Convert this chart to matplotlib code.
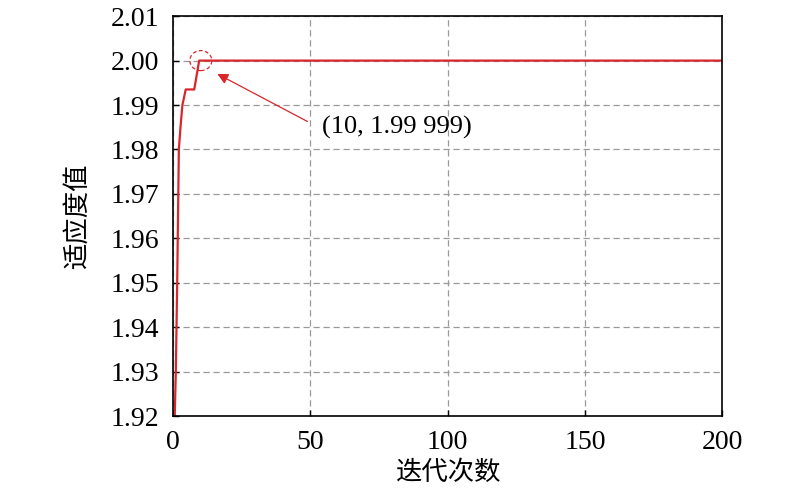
import matplotlib
matplotlib.use("Agg")
import matplotlib.pyplot as plt
from matplotlib.patches import Ellipse

# iteration / fitness values
iters = [0.7, 1.1, 1.6, 2.0, 2.2, 2.8, 3.5, 4.7, 7.8, 9.6, 200]
fitness = [1.92, 1.93, 1.95, 1.97, 1.98, 1.985, 1.99, 1.9935, 1.9935, 2.0, 2.0]

xticks = [0, 50, 100, 150, 200]
yticks = [1.92, 1.93, 1.94, 1.95, 1.96, 1.97, 1.98, 1.99, 2.00, 2.01]
best_label = "(10, 1.99 999)"

plt.rcParams['font.family'] = ['Liberation Serif', 'DejaVu Serif']
red = '#d8262b'

fig = plt.figure(figsize=(8, 4.9), dpi=100)
ax = fig.add_axes([0.216, 0.151, 0.687, 0.816])

ax.plot(iters, fitness, color=red, linewidth=1.6)

ax.set_xlim(0, 200)
ax.set_ylim(1.92, 2.01)
ax.set_xticks(xticks)
ax.set_yticks(yticks)
ax.set_yticklabels([f"{v:.2f}" for v in yticks])
ax.tick_params(direction='in', labelsize=20, length=4, width=1, pad=10)
ax.grid(True, linestyle=(0, (5, 3)), color='#999999', linewidth=0.9)
for s in ax.spines.values():
    s.set_linewidth(1.2)

cjk = ['Noto Sans CJK SC', 'DejaVu Sans']
ax.set_xlabel("迭代次数", fontsize=19, family=cjk, labelpad=3)
ax.set_ylabel("适应度值", fontsize=19, family=cjk, labelpad=14)

# mark the best point
ax.add_patch(Ellipse((10.2, 2.0), 8.0, 0.0045, fill=False, edgecolor=red,
                     linestyle=(0, (3, 2)), linewidth=0.9, zorder=5))
ax.annotate("", xy=(15.3, 1.9973), xytext=(49.9, 1.986),
            arrowprops=dict(arrowstyle='-|>', color=red, lw=0.9, mutation_scale=16))
ax.text(54.3, 1.985, best_label, fontsize=19, va='center', ha='left')

fig.savefig("out.png", dpi=100)
